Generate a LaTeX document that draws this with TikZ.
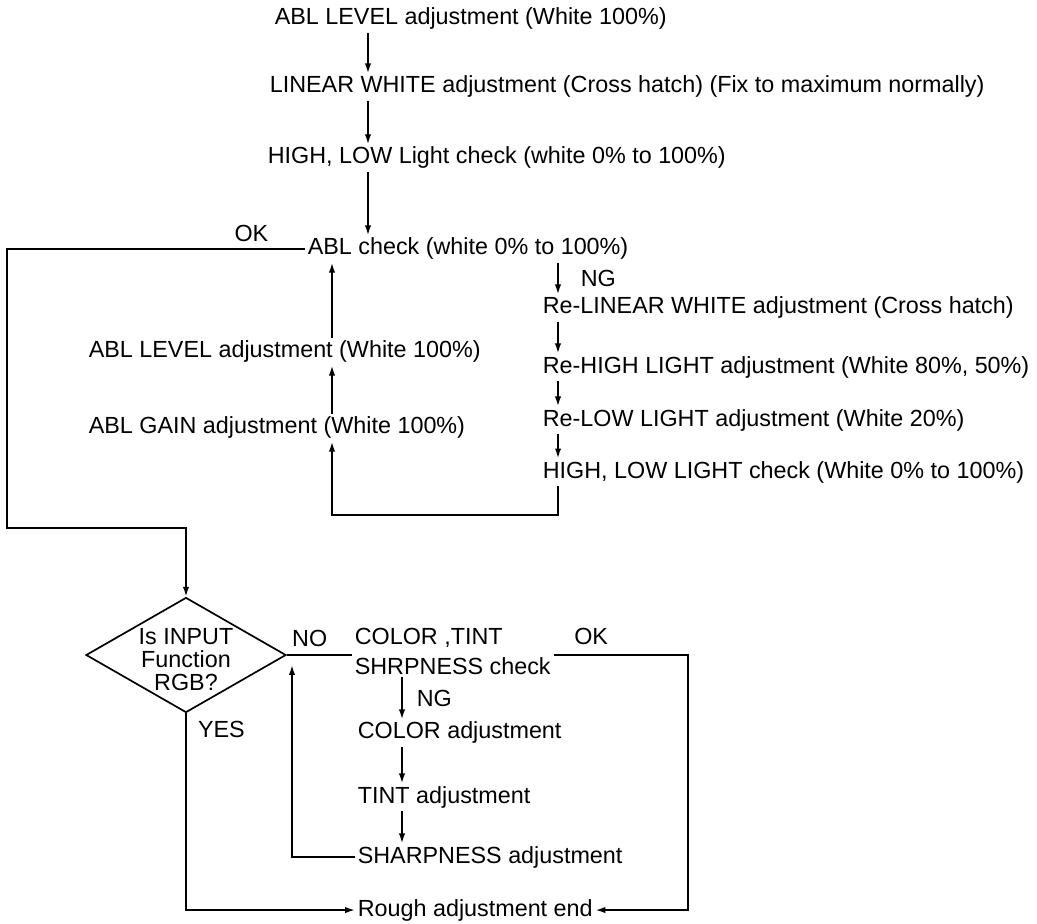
\documentclass[tikz,border=0pt]{standalone}
\usepackage{fontspec}
\setmainfont{Liberation Sans}
\usetikzlibrary{shapes.geometric,arrows.meta,positioning,calc}

\begin{document}
\begin{tikzpicture}[x=0.025cm, y=-0.025cm, line width=1.2pt]
    \tikzstyle{lbl}      = [inner sep=0pt, font=\fontsize{16.6}{21}\selectfont]
    \tikzstyle{txt}      = [lbl, anchor=west, text height=12pt, text depth=3.5pt, outer sep=2pt]
    \tikzstyle{decision} = [draw, diamond, minimum width=5cm, minimum height=2.875cm, inner sep=0pt]
    \tikzstyle{arrow}    = [->, >={Latex[length=7pt, width=4.5pt]}]

    \useasboundingbox (0,0) rectangle (1037,923);

    % Main chain
    \node [txt] (level1) at (272,19) {ABL LEVEL adjustment (White 100\%)};
    \node [txt] (linear) at (267,87) {LINEAR WHITE adjustment (Cross hatch) (Fix to maximum normally)};
    \node [txt] (hilow) at (265,158) {HIGH, LOW Light check (white 0\% to 100\%)};
    \node [txt] (ablchk) at (305,249) {ABL check (white 0\% to 100\%)};

    % NG branch
    \node [txt] (relin) at (540,308) {Re-LINEAR WHITE adjustment (Cross hatch)};
    \node [txt, below=1.475cm of relin.west, anchor=west] (rehigh) {Re-HIGH LIGHT adjustment (White 80\%, 50\%)};
    \node [txt, below=1.325cm of rehigh.west, anchor=west] (relow) {Re-LOW LIGHT adjustment (White 20\%)};
    \node [txt, below=1.3cm of relow.west, anchor=west] (hlchk) {HIGH, LOW LIGHT check (White 0\% to 100\%)};

    \node [txt] (gain) at (86,428) {ABL GAIN adjustment (White 100\%)};
    \node [txt, above=1.9cm of gain.west, anchor=west] (level2) {ABL LEVEL adjustment (White 100\%)};

    % Input check
    \node [decision, label={[lbl, align=center, yshift=-3pt, font=\fontsize{16.6}{16.3}\selectfont]center:Is INPUT\\Function\\RGB?}] (dec) at (186,655) {};
    \node [lbl, anchor=west, align=left, outer sep=2pt, font=\fontsize{16.6}{21.3}\selectfont] (ctchk) at (352,651) {COLOR ,TINT\\SHRPNESS check};
    \node [txt] (coladj) at (355,733) {COLOR adjustment};
    \node [txt, below=1.6cm of coladj.west, anchor=west] (tint) {TINT adjustment};
    \node [txt, below=1.5cm of tint.west, anchor=west] (sharp) {SHARPNESS adjustment};
    \node [txt, below=1.325cm of sharp.west, anchor=west] (rough) {Rough adjustment end};

    \coordinate (colA) at (368,0);
    \coordinate (colB) at (558,0);
    \coordinate (colL) at (332,0);
    \coordinate (colD) at (402,0);
    \coordinate (loopbot) at (332,515);
    \coordinate (outerbot) at (7,528);
    \coordinate (okright) at (688,0);
    \coordinate (backtip) at (292,665);

    % Connections
    \draw [arrow] (level1.south -| colA) -- (linear.north -| colA);
    \draw [arrow] (linear.south -| colA) -- (hilow.north -| colA);
    \draw [arrow] (hilow.south -| colA) -- (ablchk.north -| colA);

    \draw [arrow] (ablchk.south -| colB) -- node[lbl, right=0.55cm] {NG} (relin.north -| colB);
    \draw [arrow] (relin.south -| colB) -- (rehigh.north -| colB);
    \draw [arrow] (rehigh.south -| colB) -- (relow.north -| colB);
    \draw [arrow] (relow.south -| colB) -- (hlchk.north -| colB);
    \draw [arrow] (hlchk.south -| colB) |- (loopbot) -- (gain.south -| loopbot);
    \draw [arrow] (gain.north -| colL) -- (level2.south -| colL);
    \draw [arrow] (level2.north -| colL) -- (ablchk.south -| colL);

    \draw [arrow] (ablchk.west) -| node[lbl, above=0.15cm, pos=0.09] {OK} (outerbot) -| (dec.north);

    \draw (dec.east) -- node[lbl, above=0.18cm, pos=0.35] {NO} (dec.east -| ctchk.west);
    \draw [arrow] ([yshift=-3pt]ctchk.east) -| node[lbl, above=0.25cm, pos=0.14] {OK} (rough.east -| okright) -- (rough.east);
    \draw [arrow] (ctchk.south -| colD) -- node[lbl, right=0.35cm] {NG} (coladj.north -| colD);
    \draw [arrow] (coladj.south -| colD) -- (tint.north -| colD);
    \draw [arrow] (tint.south -| colD) -- (sharp.north -| colD);
    \draw [arrow] (sharp.west) -| (backtip);
    \draw [arrow] (dec.south) |- node[lbl, right=0.28cm, pos=0.04] {YES} (rough.west);

\end{tikzpicture}
\end{document}
